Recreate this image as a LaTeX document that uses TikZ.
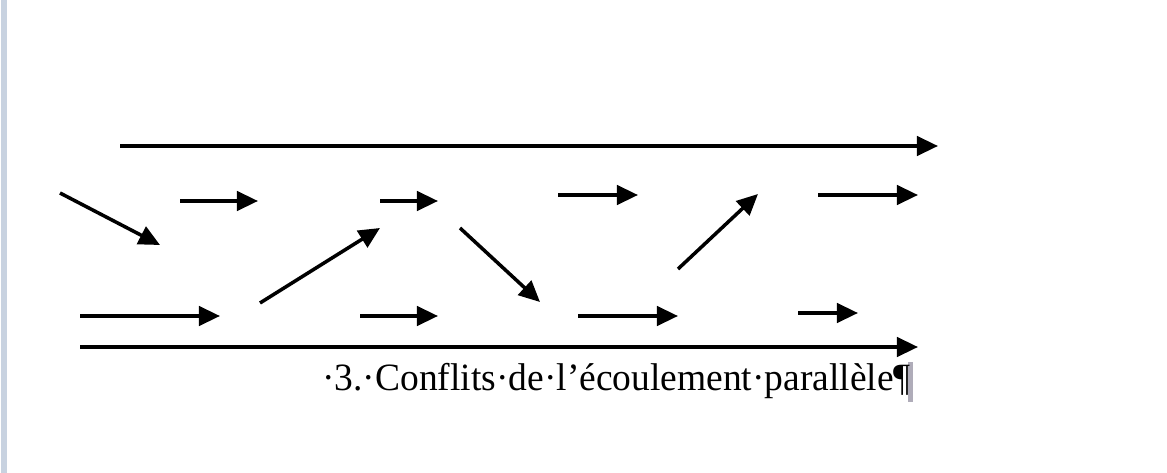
\documentclass[tikz,border=0pt]{standalone}
\usepackage{fontspec}
\setmainfont{Liberation Serif}
\usetikzlibrary{arrows.meta}
\definecolor{pageedge}{RGB}{200,210,224}
\definecolor{cursorgray}{RGB}{175,172,185}
\tikzset{
  flow/.style={-{Triangle[length=12pt,width=11pt]}, line width=2pt},
  wall/.style={flow},
  caption/.style={anchor=base west, inner sep=0pt, xscale=0.97,
                  font=\fontsize{22}{22}\selectfont},
}

\begin{document}
\begin{tikzpicture}[x=0.02cm, y=-0.02cm]
  \useasboundingbox (0,0) rectangle (1167,473);
  % page edge on the left
  \fill[pageedge] (1,0) rectangle (7,473);

  % channel walls
  \coordinate (wtopA) at (120,146);  \coordinate (wtopB) at (938,146);
  \coordinate (wbotA) at (80,347);   \coordinate (wbotB) at (918,347);
  \draw[wall] (wtopA) -- (wtopB);
  \draw[wall] (wbotA) -- (wbotB);

  % upper row
  \foreach \n/\xa/\ya/\xb/\yb in {u1/180/201/258/201, u2/380/201/438/201,
                                  u3/558/195/638/195, u4/818/195/918/195} {
    \coordinate (\n a) at (\xa,\ya);
    \coordinate (\n b) at (\xb,\yb);
    \draw[flow] (\n a) -- (\n b);
  }
  % lower row
  \foreach \n/\xa/\ya/\xb/\yb in {l1/80/316/220/316, l2/360/316/438/316,
                                  l3/578/316/678/316, l4/798/313/858/313} {
    \coordinate (\n a) at (\xa,\ya);
    \coordinate (\n b) at (\xb,\yb);
    \draw[flow] (\n a) -- (\n b);
  }
  % crossing streams
  \foreach \n/\xa/\ya/\xb/\yb in {c1/60/193/160/245, c2/260/303/380/228,
                                  c3/460/228/540/302, c4/678/269/758/194} {
    \coordinate (\n a) at (\xa,\ya);
    \coordinate (\n b) at (\xb,\yb);
    \draw[flow] (\n a) -- (\n b);
  }

  % caption with the cursor bar behind the pilcrow
  \coordinate (cursor) at (908,362);
  \fill[cursorgray] (cursor) rectangle ++(5,40);
  \node[caption] (title) at (322,390) {·3.·Conflits·de·l’écoulement·parallèle¶};
\end{tikzpicture}
\end{document}
